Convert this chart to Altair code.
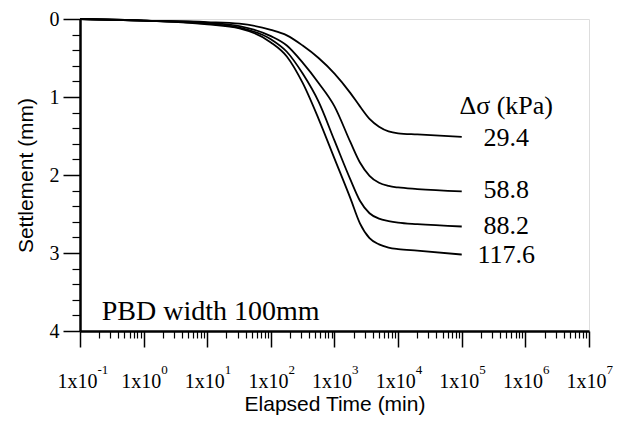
import json
import altair as alt
import pandas as pd

# ---- data ----
loads = ["29.4", "58.8", "88.2", "117.6"]

# elapsed time (min) at which the settlement was read
t_read = [0.1, 1, 10, 32, 100, 178, 316, 562, 1000, 1780, 2510, 3550, 5010, 7080, 10000, 20000, 100000]

# settlement (mm) for each load at those times
s_294 = [0, 0.02, 0.04, 0.06, 0.14, 0.21, 0.34, 0.50, 0.70, 0.95, 1.12, 1.28, 1.38, 1.44, 1.465, 1.48, 1.51]
s_588 = [0, 0.02, 0.05, 0.09, 0.22, 0.34, 0.56, 0.82, 1.12, 1.58, 1.84, 2.01, 2.10, 2.14, 2.16, 2.18, 2.21]
s_882 = [0, 0.02, 0.06, 0.11, 0.26, 0.42, 0.70, 1.06, 1.56, 2.06, 2.33, 2.49, 2.56, 2.59, 2.61, 2.63, 2.66]
s_1176 = [0, 0.02, 0.07, 0.12, 0.30, 0.48, 0.82, 1.28, 1.79, 2.30, 2.62, 2.81, 2.89, 2.93, 2.95, 2.97, 3.02]

x_major = [0.1, 1, 10, 100, 1000, 10000, 100000, 1000000, 10000000]
x_base_label = "1x10"
x_exponents = ["-1", "0", "1", "2", "3", "4", "5", "6", "7"]
x_minor = [0.2, 0.3, 0.4, 0.5, 0.6, 0.7, 0.8, 0.9,
           2, 3, 4, 5, 6, 7, 8, 9,
           20, 30, 40, 50, 60, 70, 80, 90,
           200, 300, 400, 500, 600, 700, 800, 900,
           2000, 3000, 4000, 5000, 6000, 7000, 8000, 9000,
           20000, 30000, 40000, 50000, 60000, 70000, 80000, 90000,
           200000, 300000, 400000, 500000, 600000, 700000, 800000, 900000,
           2000000, 3000000, 4000000, 5000000, 6000000, 7000000, 8000000, 9000000]

y_major = [0, 1, 2, 3, 4]
y_minor = [0.2, 0.4, 0.6, 0.8, 1.2, 1.4, 1.6, 1.8, 2.2, 2.4, 2.6, 2.8, 3.2, 3.4, 3.6, 3.8]

ann_text = ["\u0394\u03c3 (kPa)", "29.4", "58.8", "88.2", "117.6"]
ann_t = [5e5, 5e5, 5e5, 5e5, 5e5]
ann_s = [1.11, 1.52, 2.19, 2.66, 3.03]

note_text = ["PBD width 100mm"]
note_t = [0.22]
note_s = [3.75]

# ---- tables ----
rows = []
for lab, ss in zip(loads, [s_294, s_588, s_882, s_1176]):
    for t, s in zip(t_read, ss):
        rows.append({"load": lab, "t": t, "s": s})
curves = pd.DataFrame(rows)
ann = pd.DataFrame({"label": ann_text, "t": ann_t, "s": ann_s})
note = pd.DataFrame({"label": note_text, "t": note_t, "s": note_s})

xscale = alt.Scale(type="log", domain=[0.1, 1e7], nice=False)
yscale = alt.Scale(domain=[0, 4], reverse=True, nice=False)

exp_expr = "%s[indexof(%s, datum.value)]" % (json.dumps(x_exponents), json.dumps(x_major))

x_axis_major = alt.Axis(
    orient="bottom", values=x_major, labelExpr="'%s'" % x_base_label, grid=False,
    tickSize=16, tickWidth=1.5, tickColor="black", domainColor="black", domainWidth=2.5,
    labelFont="Liberation Serif", labelFontSize=20, labelColor="black", labelPadding=24,
    labelOffset=-3, labelAlign="center",
    labelOverlap=False, labelFlush=False, labelBound=False,
    title="Elapsed Time (min)", titleFont="Liberation Sans", titleFontSize=21,
    titleFontWeight="normal", titleColor="black", titleY=62, titleBaseline="top",
)
x_axis_exp = alt.Axis(
    orient="bottom", values=x_major, labelExpr=exp_expr, grid=False,
    ticks=False, tickSize=0, domain=False,
    labelFont="Liberation Serif", labelFontSize=13, labelColor="black", labelPadding=32,
    labelOffset=17, labelAlign="left", labelBaseline="top",
    labelOverlap=False, labelFlush=False, labelBound=False, title=None,
)
y_axis_major = alt.Axis(
    orient="left", values=y_major, format="d", grid=False,
    tickSize=17, tickWidth=1.5, tickColor="black", domainColor="black", domainWidth=2.5,
    labelFont="Liberation Serif", labelFontSize=20, labelColor="black", labelPadding=4,
    labelOverlap=False, labelFlush=False, labelBound=False,
    title="Settlement (mm)", titleFont="Liberation Sans", titleFontSize=21,
    titleFontWeight="normal", titleColor="black", titleX=-54, titleBaseline="middle",
)
x_axis_minor = alt.Axis(
    orient="bottom", values=x_minor, grid=False, labels=False, domain=False,
    tickSize=7, tickWidth=1.2, tickColor="black", title=None,
)
y_axis_minor = alt.Axis(
    orient="left", values=y_minor, grid=False, labels=False, domain=False,
    tickSize=8, tickWidth=1.2, tickColor="black", title=None,
)

lines = alt.Chart(curves).mark_line(
    color="black", strokeWidth=1.8, interpolate="monotone"
).encode(
    x=alt.X("t:Q", scale=xscale, axis=x_axis_major),
    y=alt.Y("s:Q", scale=yscale, axis=y_axis_major),
    detail="load:N",
)

ann_layer = alt.Chart(ann).mark_text(
    font="Liberation Serif", fontSize=26, color="black", align="center", baseline="middle"
).encode(
    x=alt.X("t:Q", scale=xscale, axis=x_axis_minor),
    y=alt.Y("s:Q", scale=yscale, axis=y_axis_minor),
    text="label:N",
)

note_layer = alt.Chart(note).mark_text(
    font="Liberation Serif", fontSize=28, color="black", align="left", baseline="middle"
).encode(
    x=alt.X("t:Q", scale=xscale, axis=x_axis_exp),
    y=alt.Y("s:Q", scale=yscale, axis=None),
    text="label:N",
)

chart = alt.layer(lines, ann_layer, note_layer).resolve_axis(
    x="independent", y="independent"
).properties(
    width=509, height=312,
    autosize="none",
    padding={"left": 72, "top": 11, "right": 35, "bottom": 98},
).configure_view(
    stroke="black", strokeWidth=2.5
).configure(background="white")

chart.save("out.html", embed_options={"renderer": "svg", "actions": False})
